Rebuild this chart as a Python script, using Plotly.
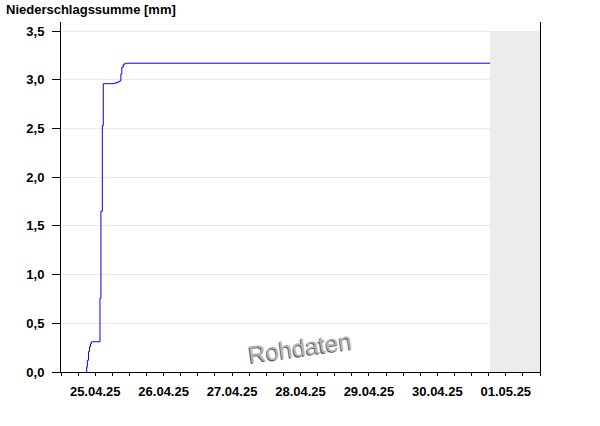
import plotly.graph_objects as go

# Data: cumulative precipitation [mm]
times = ["2025-04-25 08:50", "2025-04-25 09:00", "2025-04-25 09:15", "2025-04-25 09:40",
         "2025-04-25 10:00", "2025-04-25 10:20", "2025-04-25 10:40", "2025-04-25 13:40",
         "2025-04-25 14:00", "2025-04-25 14:30", "2025-04-25 14:50", "2025-04-25 19:00",
         "2025-04-25 20:00", "2025-04-25 20:40", "2025-04-25 21:00", "2025-04-25 21:20",
         "2025-04-25 21:50", "2025-04-25 22:30", "2025-05-01 06:30"]
values = [0.00, 0.05, 0.12, 0.21, 0.26, 0.29, 0.31, 0.76, 1.65, 2.53, 2.96, 2.97,
          2.98, 2.99, 3.06, 3.13, 3.16, 3.17, 3.17]

day_starts = ["2025-04-25", "2025-04-26", "2025-04-27", "2025-04-28", "2025-04-29",
              "2025-04-30", "2025-05-01", "2025-05-02"]
label_pos = ["2025-04-25 12:00", "2025-04-26 12:00", "2025-04-27 12:00", "2025-04-28 12:00",
             "2025-04-29 12:00", "2025-04-30 12:00", "2025-05-01 12:00"]
label_text = ["25.04.25", "26.04.25", "27.04.25", "28.04.25", "29.04.25", "30.04.25", "01.05.25"]
y_ticks = [0, 0.5, 1.0, 1.5, 2.0, 2.5, 3.0, 3.5]

x_range = ["2025-04-25 00:00", "2025-05-02 00:00"]
future_start = "2025-05-01 06:30"

font_family = "Liberation Sans, Arial, sans-serif"

fig = go.Figure()
fig.add_trace(go.Scatter(x=times, y=values, mode="lines", line_shape="hv",
                         line=dict(color="#0000ff", width=1), showlegend=False,
                         hoverinfo="skip"))

fig.add_shape(type="rect", xref="x", yref="y", x0=future_start, x1=x_range[1],
              y0=0, y1=3.5, fillcolor="#ececec", line_width=0, layer="between")

fig.update_layout(
    width=600, height=426,
    margin=dict(l=61, r=60, t=22, b=54),
    paper_bgcolor="white", plot_bgcolor="white",
    separators=",.",
    font=dict(family=font_family, size=13, color="black"),
    title=dict(text="<b>Niederschlagssumme [mm]</b>", x=6/600, xanchor="left",
               xref="container", y=1 - 9/426, yanchor="middle",
               font=dict(size=13, color="black", family=font_family)),
    xaxis=dict(type="date", range=x_range, tickmode="array", tickvals=label_pos,
               ticktext=["<b>%s</b>" % t for t in label_text],
               ticks="outside", ticklen=3, tickwidth=1, tickcolor="black",
               ticklabelstandoff=4,
               showline=True, linecolor="black", linewidth=1,
               showgrid=False, zeroline=False,
               minor=dict(ticks="outside", ticklen=3, tickwidth=1, tickcolor="black",
                          dtick=6*3600*1000, tick0="2025-04-25", showgrid=False),
               tickfont=dict(size=13, color="black")),
    xaxis2=dict(type="date", range=x_range, overlaying="x", anchor="y", side="bottom",
                tickmode="array", tickvals=day_starts, showticklabels=False,
                ticks="outside", ticklen=7, tickwidth=1, tickcolor="black",
                showline=False, showgrid=False, zeroline=False),
    yaxis=dict(range=[0, 3.593], tickmode="array", tickvals=y_ticks,
               ticktext=["<b>%s</b>" % ("%.1f" % v).replace(".", ",") for v in y_ticks],
               ticks="outside", ticklen=8, tickwidth=1, tickcolor="black",
               ticklabelstandoff=5,
               showline=True, linecolor="black", linewidth=1, mirror=True,
               showgrid=True, gridcolor="#ebebeb", gridwidth=1, zeroline=False,
               tickfont=dict(size=13, color="black")),
)

fig.add_annotation(text="Rohdaten", xref="paper", yref="paper", x=0.499, y=0.069,
                   xanchor="center", yanchor="middle",
                   showarrow=False, textangle=-8,
                   font=dict(size=24, color="#b4b4b4", family=font_family,
                             shadow="-1px 1px 0px #606060"))

fig.write_html("out.html", config={"displayModeBar": False},
               post_script="document.body.style.margin='0';")
